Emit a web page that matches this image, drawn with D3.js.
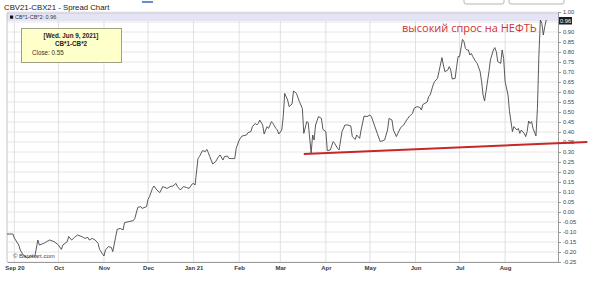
<!DOCTYPE html>
<html>
<head>
<meta charset="utf-8">
<script src="https://cdn.jsdelivr.net/npm/d3@7"></script>
<style>
  body { margin: 0; background: #fff; }
  svg { display: block; font-family: "Liberation Sans", Arial, sans-serif; }
</style>
</head>
<body>
<div id="chart"></div>
<script>
// spread CB*1-CB*2
const dates = [
  "2020-08-27","2020-08-31","2020-09-01","2020-09-04","2020-09-05","2020-09-07","2020-09-10","2020-09-12","2020-09-14","2020-09-15",
  "2020-09-17","2020-09-18","2020-09-21","2020-09-23","2020-09-25","2020-09-28","2020-10-01","2020-10-03","2020-10-04","2020-10-07",
  "2020-10-08","2020-10-10","2020-10-12","2020-10-14","2020-10-17","2020-10-19","2020-10-21","2020-10-22","2020-10-24","2020-10-26",
  "2020-10-28","2020-10-29","2020-10-31","2020-11-01","2020-11-02","2020-11-04","2020-11-06","2020-11-07","2020-11-09","2020-11-10",
  "2020-11-12","2020-11-14","2020-11-15","2020-11-18","2020-11-21","2020-11-22","2020-11-24","2020-11-26","2020-11-27","2020-11-30",
  "2020-12-01","2020-12-02","2020-12-04","2020-12-05","2020-12-07","2020-12-09","2020-12-11","2020-12-14","2020-12-16","2020-12-18",
  "2020-12-20","2020-12-21","2020-12-23","2020-12-25","2020-12-27","2020-12-29","2020-12-31","2021-01-01","2021-01-02","2021-01-04",
  "2021-01-05","2021-01-07","2021-01-09","2021-01-10","2021-01-11","2021-01-12","2021-01-14","2021-01-16","2021-01-18","2021-01-19",
  "2021-01-21","2021-01-22","2021-01-24","2021-01-25","2021-01-27","2021-01-29","2021-01-30","2021-02-01","2021-02-03","2021-02-06",
  "2021-02-07","2021-02-09","2021-02-10","2021-02-12","2021-02-13","2021-02-14","2021-02-15","2021-02-17","2021-02-18","2021-02-20",
  "2021-02-21","2021-02-23","2021-02-24","2021-02-26","2021-02-27","2021-02-28","2021-03-02","2021-03-03","2021-03-04","2021-03-06",
  "2021-03-07","2021-03-09","2021-03-10","2021-03-12","2021-03-14","2021-03-16","2021-03-17","2021-03-19","2021-03-20","2021-03-22",
  "2021-03-23","2021-03-24","2021-03-25","2021-03-27","2021-03-29","2021-03-30","2021-04-01","2021-04-02","2021-04-04","2021-04-06",
  "2021-04-07","2021-04-09","2021-04-10","2021-04-12","2021-04-14","2021-04-16","2021-04-18","2021-04-19","2021-04-21","2021-04-22",
  "2021-04-24","2021-04-25","2021-04-27","2021-04-29","2021-05-01","2021-05-02","2021-05-04","2021-05-06","2021-05-08","2021-05-11",
  "2021-05-13","2021-05-14","2021-05-16","2021-05-17","2021-05-19","2021-05-20","2021-05-22","2021-05-24","2021-05-26","2021-05-28",
  "2021-05-30","2021-05-31","2021-06-02","2021-06-04","2021-06-05","2021-06-06","2021-06-09","2021-06-10","2021-06-11","2021-06-13",
  "2021-06-14","2021-06-16","2021-06-17","2021-06-19","2021-06-20","2021-06-21","2021-06-23","2021-06-24","2021-06-25","2021-06-26",
  "2021-06-28","2021-06-29","2021-06-30","2021-07-01","2021-07-03","2021-07-04","2021-07-05","2021-07-06","2021-07-07","2021-07-08",
  "2021-07-09","2021-07-10","2021-07-12","2021-07-13","2021-07-15","2021-07-16","2021-07-17","2021-07-18","2021-07-19","2021-07-21",
  "2021-07-22","2021-07-24","2021-07-25","2021-07-26","2021-07-27","2021-07-29","2021-07-30","2021-07-31","2021-08-01","2021-08-03",
  "2021-08-04","2021-08-06","2021-08-07","2021-08-09","2021-08-10","2021-08-11","2021-08-12","2021-08-14","2021-08-15","2021-08-16",
  "2021-08-17","2021-08-18","2021-08-19","2021-08-20","2021-08-22","2021-08-23","2021-08-24","2021-08-25","2021-08-26","2021-08-27",
  "2021-08-28","2021-08-29"
];
const values = [
  -0.11,-0.11,-0.13,-0.165,-0.19,-0.215,-0.23,-0.22,-0.225,-0.22,
  -0.14,-0.165,-0.157,-0.148,-0.14,-0.148,-0.165,-0.187,-0.165,-0.148,
  -0.123,-0.14,-0.127,-0.115,-0.123,-0.132,-0.127,-0.14,-0.132,-0.14,
  -0.157,-0.187,-0.21,-0.22,-0.19,-0.173,-0.177,-0.198,-0.123,-0.087,
  -0.082,-0.09,-0.053,-0.048,-0.043,-0.032,0.023,0.027,0.018,0.027,
  0.063,0.077,0.118,0.13,0.11,0.097,0.127,0.118,0.127,0.13,
  0.143,0.127,0.11,0.127,0.123,0.118,0.14,0.143,0.135,0.268,
  0.277,0.307,0.302,0.313,0.297,0.277,0.24,0.252,0.277,0.285,
  0.26,0.277,0.28,0.268,0.267,0.267,0.318,0.36,0.38,0.385,
  0.397,0.402,0.427,0.443,0.435,0.443,0.46,0.435,0.39,0.427,
  0.418,0.452,0.443,0.418,0.41,0.39,0.41,0.477,0.593,0.56,
  0.527,0.54,0.605,0.593,0.552,0.518,0.393,0.452,0.447,0.293,
  0.385,0.36,0.435,0.477,0.468,0.413,0.402,0.307,0.31,0.352,
  0.343,0.318,0.31,0.402,0.435,0.435,0.43,0.377,0.363,0.385,
  0.368,0.41,0.48,0.477,0.485,0.477,0.435,0.393,0.352,0.36,
  0.41,0.468,0.46,0.41,0.377,0.393,0.423,0.435,0.46,0.48,
  0.493,0.518,0.527,0.523,0.51,0.537,0.55,0.577,0.585,0.635,
  0.652,0.668,0.702,0.772,0.735,0.702,0.71,0.727,0.71,0.665,
  0.668,0.727,0.777,0.777,0.863,0.852,0.818,0.81,0.81,0.785,
  0.793,0.777,0.752,0.743,0.702,0.652,0.585,0.555,0.602,0.702,
  0.76,0.81,0.822,0.802,0.752,0.743,0.81,0.768,0.652,0.585,
  0.502,0.402,0.427,0.41,0.418,0.393,0.41,0.393,0.377,0.402,
  0.455,0.443,0.452,0.418,0.38,0.518,0.785,0.96,0.943,0.885,
  0.927,0.96
];

const monthTicks = ["2020-09-01","2020-10-01","2020-11-01","2020-12-01","2021-01-01","2021-02-01",
                    "2021-03-01","2021-04-01","2021-05-01","2021-06-01","2021-07-01","2021-08-01"];
const monthLabels = ["Sep 20","Oct","Nov","Dec","Jan 21","Feb","Mar","Apr","May","Jun","Jul","Aug"];
const yTicks = d3.range(-25, 101, 5).map(v => v / 100);

// support line drawn on the chart
const trendDates = ["2021-03-17", "2021-09-26"];
const trendValues = [0.29, 0.35];

const title = "CBV21-CBX21 - Spread Chart";
const seriesName = "CB*1-CB*2";
const lastValue = 0.96;
const tooltipLines = ["[Wed. Jun 9, 2021]", "CB*1-CB*2", "Close: 0.55"];
const annotation = "высокий спрос на НЕФТЬ";

const width = 590, height = 287;
const margin = { top: 13, right: 32, bottom: 25, left: 7 };
const parse = d3.timeParse("%Y-%m-%d");

const svg = d3.select('#chart').append('svg')
    .attr('width', width)
    .attr('height', height);

const x = d3.scaleTime()
    .domain([parse("2020-08-27"), parse("2021-09-06")])
    .range([margin.left, width - margin.right]);
const y = d3.scaleLinear()
    .domain([-0.25, 1.0])
    .range([height - margin.bottom, margin.top - 1]);

const series = dates.map((d, i) => ({ date: parse(d), value: values[i] }));
const months = monthTicks.map(parse);

// top toolbar bits that are cut off
svg.append('line').attr('x1', 142).attr('x2', 153).attr('y1', 2).attr('y2', 2)
    .style('stroke', '#2b6cb5').style('stroke-width', 1.5);
svg.append('rect').attr('x', 464).attr('y', -6).attr('width', 40).attr('height', 10).attr('rx', 2)
    .style('fill', '#fff').style('stroke', '#b5b5b5');
svg.append('rect').attr('x', 509).attr('y', -6).attr('width', 55).attr('height', 10).attr('rx', 2)
    .style('fill', '#fff').style('stroke', '#b5b5b5');

svg.append('text')
    .attr('x', 4).attr('y', 9.5)
    .text(title)
    .style('font-size', '7.8px')
    .style('fill', '#222');

// grid
const grid = svg.append('g');
grid.selectAll('line.h')
    .data(yTicks)
    .join('line')
    .attr('class', 'h')
    .attr('x1', margin.left).attr('x2', width - margin.right)
    .attr('y1', d => y(d)).attr('y2', d => y(d))
    .style('stroke', '#e6e6e6');
grid.selectAll('line.v')
    .data(months)
    .join('line')
    .attr('class', 'v')
    .attr('x1', d => x(d)).attr('x2', d => x(d))
    .attr('y1', margin.top).attr('y2', height - margin.bottom)
    .style('stroke', '#e0e0e0');

// legend band on top of the plot
svg.append('rect')
    .attr('x', margin.left).attr('y', margin.top)
    .attr('width', width - margin.right - margin.left).attr('height', 8)
    .style('fill', '#e4e4f5');
svg.append('line')
    .attr('x1', margin.left).attr('x2', width - margin.right)
    .attr('y1', margin.top).attr('y2', margin.top)
    .style('stroke', '#c8c8dc');
svg.append('rect').attr('x', 10).attr('y', 15.5).attr('width', 3.2).attr('height', 3.2).style('fill', '#111');
svg.append('text')
    .attr('x', 15).attr('y', 19)
    .text(seriesName + ': ' + lastValue.toFixed(2))
    .style('font-size', '5.5px')
    .style('fill', '#333');

// frame
svg.append('line')
    .attr('x1', margin.left).attr('x2', margin.left)
    .attr('y1', margin.top).attr('y2', height - margin.bottom)
    .style('stroke', '#c4c4c4');

// axes
const xAxis = svg.append('g')
    .attr('transform', `translate(0,${height - margin.bottom})`)
    .call(d3.axisBottom(x).tickValues(months).tickFormat((d, i) => monthLabels[i]).tickSize(0).tickPadding(4));
xAxis.select('.domain').style('stroke', '#9a9a9a');
xAxis.selectAll('text')
    .style('font-size', '6px')
    .style('font-weight', 'bold')
    .style('fill', '#3a3a3a')
    .style('font-family', '"Liberation Sans", Arial, sans-serif');

// 0.95 sits under the last-value box, as in the original
const yAxis = svg.append('g')
    .attr('transform', `translate(${width - margin.right},0)`)
    .call(d3.axisRight(y).tickValues(yTicks)
        .tickFormat(d => Math.abs(d - 0.95) < 1e-9 ? '' : d.toFixed(2))
        .tickSize(3).tickPadding(2));
yAxis.select('.domain').style('stroke', '#9a9a9a');
yAxis.selectAll('.tick line').style('stroke', '#9a9a9a');
yAxis.selectAll('text')
    .style('font-size', '5.8px')
    .style('fill', '#444')
    .style('font-family', '"Liberation Sans", Arial, sans-serif');

// watermark
svg.append('text')
    .attr('x', 13).attr('y', 258)
    .text('© Barchart.com')
    .style('font-size', '6px')
    .style('fill', '#444');

// price line
const line = d3.line()
    .x(d => x(d.date))
    .y(d => y(d.value));
svg.append('path')
    .datum(series)
    .attr('d', line)
    .style('fill', 'none')
    .style('stroke', '#474747')
    .style('stroke-width', 0.9)
    .style('stroke-linejoin', 'round');

// red support line
svg.append('line')
    .attr('x1', x(parse(trendDates[0]))).attr('y1', y(trendValues[0]))
    .attr('x2', x(parse(trendDates[1]))).attr('y2', y(trendValues[1]))
    .style('stroke', '#c62828')
    .style('stroke-width', 2);

svg.append('text')
    .attr('x', 402).attr('y', 31.5)
    .text(annotation)
    .style('font-size', '11px')
    .style('font-family', '"Open Sans", "Noto Sans", sans-serif')
    .style('fill', '#cc3434');

// last value marker on the axis
svg.append('rect')
    .attr('x', width - margin.right + 1).attr('y', y(lastValue) - 3)
    .attr('width', 13).attr('height', 7.5)
    .style('fill', '#1c1c1c');
svg.append('text')
    .attr('x', width - margin.right + 2).attr('y', y(lastValue) + 2.8)
    .text(lastValue.toFixed(2))
    .style('font-size', '5.8px')
    .style('fill', '#fff');

// tooltip box
const tip = svg.append('g');
tip.append('rect')
    .attr('x', 21.5).attr('y', 28.5).attr('width', 100).attr('height', 34)
    .style('fill', '#ffffc9')
    .style('stroke', '#a0a088');
tip.append('text').attr('x', 71).attr('y', 37.5).attr('text-anchor', 'middle')
    .text(tooltipLines[0]).style('font-size', '6.3px').style('font-weight', 'bold').style('fill', '#222');
tip.append('text').attr('x', 71).attr('y', 46).attr('text-anchor', 'middle')
    .text(tooltipLines[1]).style('font-size', '6.3px').style('font-weight', 'bold').style('fill', '#222');
tip.append('text').attr('x', 32).attr('y', 55).text(tooltipLines[2])
    .style('font-size', '6.3px').style('fill', '#333');
</script>
</body>
</html>
